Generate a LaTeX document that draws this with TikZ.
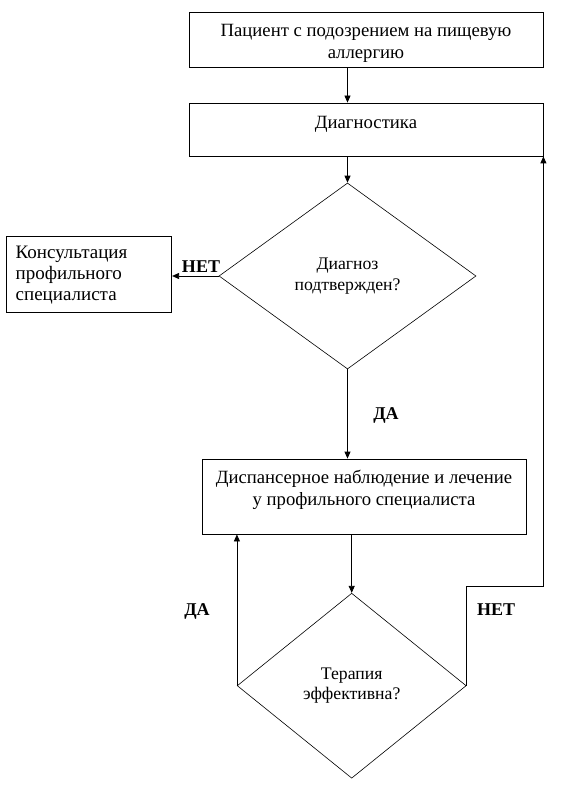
\documentclass[tikz,border=0pt]{standalone}
\usepackage{fontspec}
\setmainfont{Liberation Serif}
\usetikzlibrary{shapes.geometric,arrows.meta}
\tikzset{
  boxnode/.style={draw, line width=0.8pt, rectangle, inner sep=0pt, align=center, font=\fontsize{18.7}{21.5}\selectfont},
  decision/.style={draw, line width=0.6pt, diamond, inner sep=0pt, align=center, font=\fontsize{17.7}{20.5}\selectfont},
  conn/.style={line width=0.8pt, -{Triangle[length=7pt,width=6pt]}},
  lbl/.style={font=\fontsize{18}{20}\selectfont\bfseries, inner sep=0pt}
}
\begin{document}
\begin{tikzpicture}[x=1pt,y=-1pt]
\useasboundingbox (0,0) rectangle (564,786);
\node[boxnode, minimum width=354pt, minimum height=55pt] (b1) at (366,39.5) {\rule{0pt}{19.5pt}Пациент с подозрением на пищевую\\аллергию};
\node[boxnode, minimum width=354pt, minimum height=53pt] (b2) at (366,129.5) {\rule{0pt}{19.5pt}Диагностика\\\mbox{}};
\node[decision, minimum width=257pt, minimum height=186pt] (d1) at (347.5,276) {Диагноз\\подтвержден?};
\node[boxnode, minimum width=165pt, minimum height=76pt, align=left, text width=147pt, font=\fontsize{19}{21}\selectfont] (c1) at (89.2,274.7) {Консультация\\профильного\\специалиста};
\node[boxnode, minimum width=324pt, minimum height=75pt] (b3) at (364,496.5) {\rule{0pt}{17.5pt}Диспансерное наблюдение и лечение\\у профильного специалиста\\\mbox{}};
\node[decision, minimum width=229pt, minimum height=185pt] (d2) at (351.7,685.7) {Терапия\\эффективна?};
\node[lbl] (l1) at (201,267) {НЕТ};
\node[lbl] (l2) at (386,415) {ДА};
\node[lbl] (l3) at (197,611) {ДА};
\node[lbl] (l4) at (496,610) {НЕТ};
\draw[conn] (b1.south -| d1.north) -- (b2.north -| d1.north);
\draw[conn] (b2.south -| d1.north) -- (d1.north);
\draw[conn] (d1.west) -- (d1.west -| c1.east);
\draw[conn] (d1.south) -- (d1.south |- b3.north);
\draw[conn] (b3.south -| d2.north) -- (d2.north);
\draw[conn] (d2.west) -- (d2.west |- b3.south);
\draw[conn] (d2.east) -- ++(0,-99) -| (b2.south east);
\end{tikzpicture}
\end{document}
